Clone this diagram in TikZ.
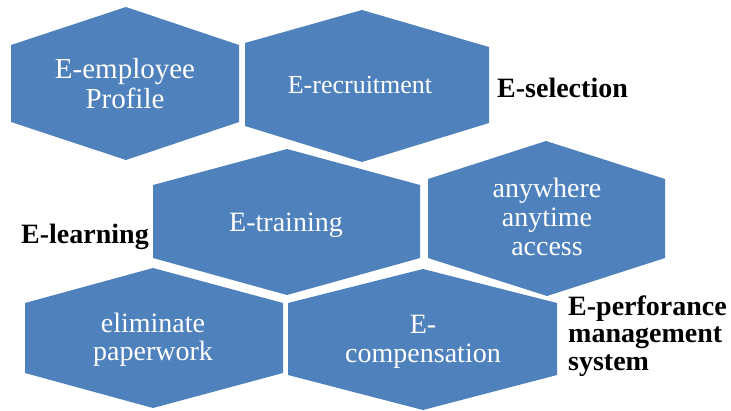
\documentclass[tikz,border=0pt]{standalone}
\usepackage{fontspec}
\setmainfont{Liberation Serif}
\definecolor{hexblue}{HTML}{4F81BD}
\begin{document}
\begin{tikzpicture}[x=1pt, y=-1pt,
  hexfill/.style={fill=hexblue},
  hextext/.style={text=white, align=center, anchor=base, inner sep=0pt,
    font=\fontsize{28}{28.5}\selectfont},
  sidelabel/.style={text=black, align=left, anchor=base west, inner sep=0pt,
    font=\bfseries\fontsize{28}{27.5}\selectfont}]
\useasboundingbox (0,0) rectangle (731,410);

% hexagon cells
\fill[hexfill] (11,45) -- (126,7) -- (239,45) -- (239,122) -- (126,160) -- (11,122) -- cycle;
\fill[hexfill] (245,43) -- (362,10) -- (489,47) -- (489,123) -- (362,162) -- (245,126) -- cycle;
\fill[hexfill] (428,179) -- (546,141) -- (665,179) -- (665,258) -- (547,296) -- (428,258) -- cycle;
\fill[hexfill] (153,185) -- (287,149) -- (420,185) -- (420,258) -- (287,295) -- (153,258) -- cycle;
\fill[hexfill] (25,303) -- (153,268) -- (283,303) -- (283,373) -- (153,408) -- (25,373) -- cycle;
\fill[hexfill] (288,303) -- (423,269) -- (557,303) -- (557,375) -- (423,410) -- (288,375) -- cycle;

% cell texts (multi-line nodes sit on the baseline of their last line)
\node[hextext, font=\fontsize{29}{30}\selectfont] (profile) at (125,108) {E-employee\\Profile};
\node[hextext, font=\fontsize{26}{28}\selectfont] (recruit) at (360,93) {E-recruitment};
\node[hextext, font=\fontsize{28}{29}\selectfont] (access) at (547,255) {anywhere\\anytime\\access};
\node[hextext] (training) at (286,231) {E-training};
\node[hextext, font=\fontsize{28}{27.5}\selectfont] (paper) at (153,360) {eliminate\\paperwork};
\node[hextext, font=\fontsize{28}{29}\selectfont] (compens) at (423,362) {E-\\compensation};

% side labels
\node[sidelabel] (selection) at (497,97) {E-selection};
\node[sidelabel] (learning) at (21,243) {E-learning};
\node[sidelabel] (perform) at (568,370) {E-perforance\\management\\system};
\end{tikzpicture}
\end{document}
